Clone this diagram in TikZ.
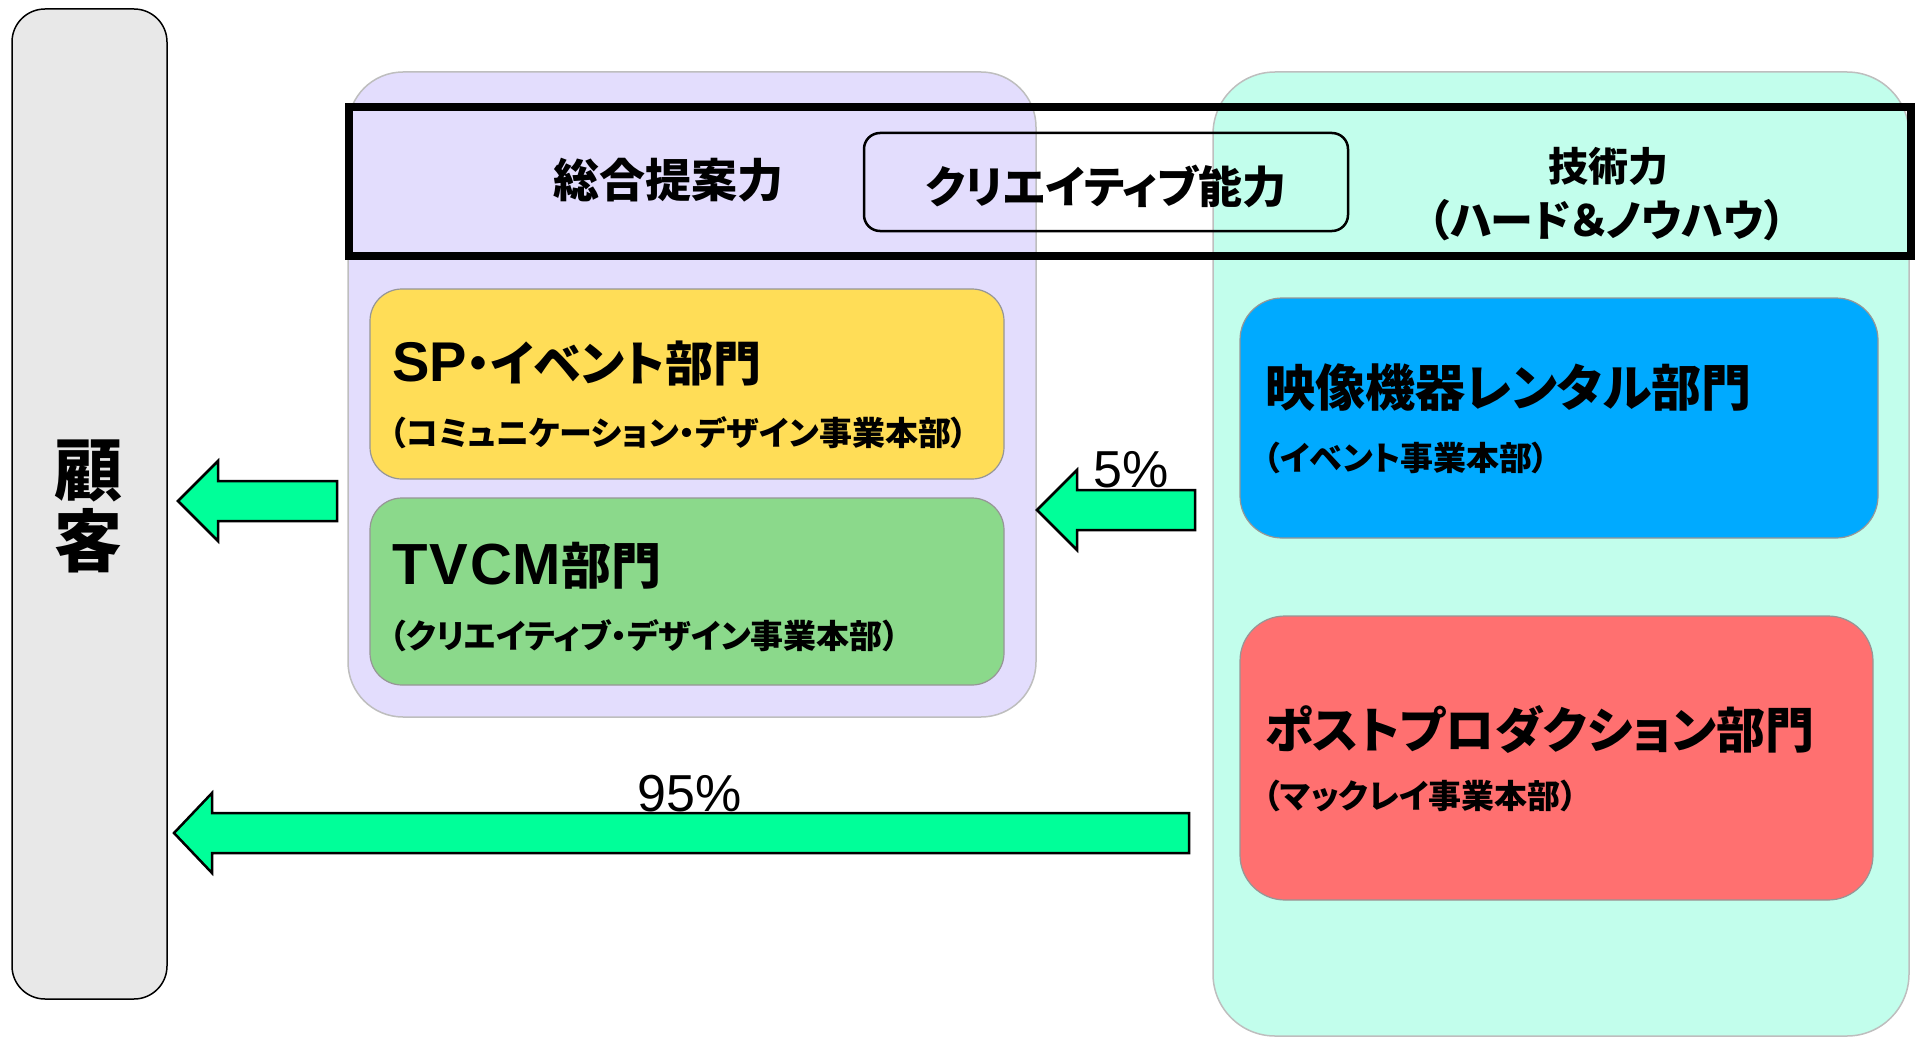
\documentclass[tikz,border=0pt]{standalone}
\usepackage{fontspec}
\usepackage{graphicx}
\setmainfont{Noto Sans CJK JP}[RawFeature=+palt]
\newfontfamily\lat{Liberation Sans}
\definecolor{custfill}{RGB}{232,232,232}
\definecolor{lavender}{RGB}{227,221,253}
\definecolor{mint}{RGB}{194,254,236}
\definecolor{spyellow}{RGB}{255,221,87}
\definecolor{tvgreen}{RGB}{139,217,139}
\definecolor{rentblue}{RGB}{0,170,255}
\definecolor{postred}{RGB}{255,112,112}
\definecolor{flowgreen}{RGB}{0,255,153}
\definecolor{panelgray}{RGB}{190,190,190}
\definecolor{deptgray}{RGB}{150,150,150}
\newcommand\fs[1]{\fontsize{#1}{#1}\selectfont}
\newcommand\blockarrow[6]{%
  \draw[flow] (#1,#2) -- (#3,#2-#6) -- (#3,#2-#5) -- (#4,#2-#5) -- (#4,#2+#5) -- (#3,#2+#5) -- (#3,#2+#6) -- cycle;}
\tikzset{
  box/.style={rectangle, anchor=north west, inner sep=0pt, outer sep=0pt},
  panel/.style={box, draw=panelgray, line width=1.5pt},
  dept/.style={box, draw=deptgray, line width=1.2pt},
  flow/.style={draw=black, line width=2.5pt, fill=flowgreen, line join=miter},
  txt/.style={inner sep=0pt, outer sep=0pt, anchor=base},
  ltxt/.style={inner sep=0pt, outer sep=0pt, anchor=base west},
}
\begin{document}
\begin{tikzpicture}[x=1pt,y=-1pt]
\useasboundingbox (0,0) rectangle (1915,1038);
% customer column
\node[box, draw=black, line width=1.5pt, fill=custfill, rounded corners=33pt,
      minimum width=155pt, minimum height=990pt] (cust) at (12,9) {};
% panels
\node[panel, fill=lavender, rounded corners=55pt, minimum width=688pt, minimum height=645pt] (plan) at (348,72) {};
\node[panel, fill=mint, rounded corners=62pt, minimum width=696pt, minimum height=964pt] (tech) at (1213,72) {};
% departments
\node[dept, fill=spyellow, rounded corners=32pt, minimum width=634pt, minimum height=190pt] (sp) at (370,289) {};
\node[dept, fill=tvgreen, rounded corners=32pt, minimum width=634pt, minimum height=187pt] (tv) at (370,498) {};
\node[dept, fill=rentblue, rounded corners=42pt, minimum width=638pt, minimum height=240pt] (rent) at (1240,298) {};
\node[dept, fill=postred, rounded corners=45pt, minimum width=633pt, minimum height=284pt] (post) at (1240,616) {};
% ability frame
\node[box, draw=black, line width=8pt, minimum width=1562pt, minimum height=149pt] (frame) at (349,107) {};
\node[box, draw=black, line width=2.5pt, rounded corners=16pt, minimum width=484pt, minimum height=98pt] (crea) at (864,133) {};
% arrows
\blockarrow{178}{501}{218}{337}{20}{40}
\blockarrow{1037}{510}{1077}{1195}{20}{40}
\blockarrow{174}{833}{212}{1189}{20}{40}
% texts
\node[txt] (k1) at (88,495) {\fs{68}\bfseries 顧};
\node[txt] (k2) at (88,566) {\fs{68}\bfseries 客};
\node[txt] (t1) at (668,197) {\fs{46}\bfseries 総合提案力};
\node[txt] (t2) at (1106,204) {\fs{44}\bfseries クリエイティブ能力};
\node[txt] (t3) at (1608,182) {\fs{40}\bfseries 技術力};
\node[txt] (t4) at (1607,236) {\fs{43}\bfseries （ハード＆ノウハウ）};
\node[ltxt] (sp1) at (392,381) {\fs{48}\bfseries{\lat\fs{56}SP}・イベント部門};
\node[ltxt] (sp2) at (390,445) {\fs{33}\bfseries （コミュニケーション・デザイン事業本部）};
\node[ltxt] (tv1) at (392,584) {\fs{50}\bfseries{\lat\fs{58}T\kern2pt V\kern2pt C\kern1pt M}部門};
\node[ltxt] (tv2) at (390,648) {\fs{33}\bfseries （クリエイティブ・デザイン事業本部）};
\node[ltxt] (re1) at (1265,406) {\fs{50}\bfseries 映像機器レンタル部門};
\node[ltxt] (re2) at (1264,470) {\fs{33}\bfseries （イベント事業本部）};
\node[ltxt] (po1) at (1265,748) {\fs{49}\bfseries ポストプロダクション部門};
\node[ltxt] (po2) at (1264,808) {\fs{33}\bfseries （マックレイ事業本部）};
\node[txt] (p5) at (1131,487) {\lat\fs{52}5\%};
\node[txt] (p95) at (690,811) {\lat\fs{52}95\%};
\end{tikzpicture}
\end{document}
